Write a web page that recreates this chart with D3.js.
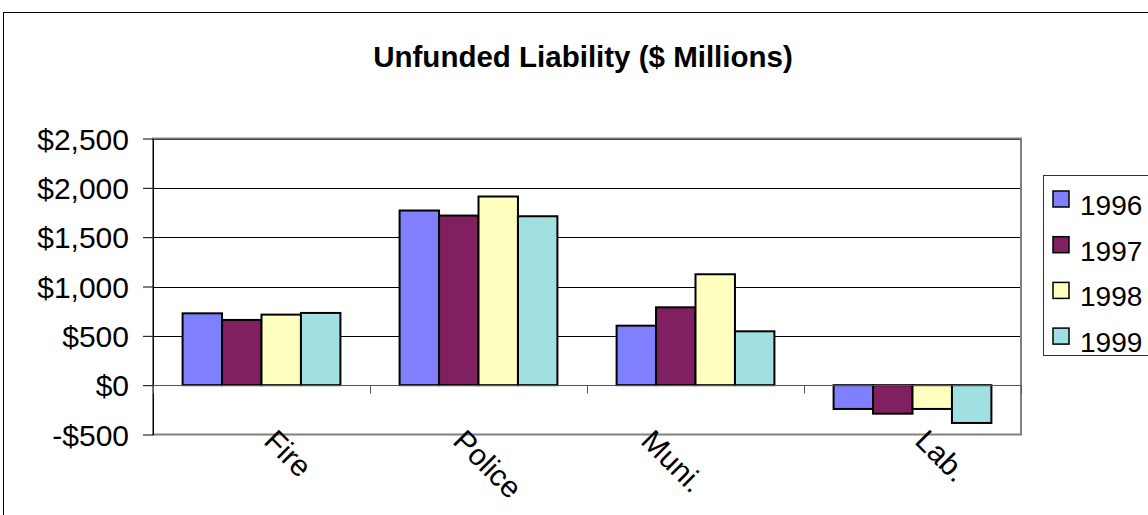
<!DOCTYPE html>
<html>
<head>
<meta charset="utf-8">
<script src="https://cdn.jsdelivr.net/npm/d3@7"></script>
<style>
  body { margin: 0; background: #fff; }
  text { font-family: "Liberation Sans", Arial, sans-serif; fill: #000; }
</style>
</head>
<body>
<div id="chart-area"></div>
<script>
// data
var categories = ["Fire", "Police", "Muni.", "Lab."];
var years = ["1996", "1997", "1998", "1999"];
var v1996 = [728, 1770, 603, -241];
var v1997 = [661, 1719, 789, -289];
var v1998 = [715, 1912, 1124, -241];
var v1999 = [732, 1712, 546, -383];
var yTicks = [-500, 0, 500, 1000, 1500, 2000, 2500];
var colors = ["#8080ff", "#802060", "#ffffc0", "#a0e0e0"];

var series = [v1996, v1997, v1998, v1999];

var width = 1148;
var height = 515;
var plot = {left: 153, right: 1021, top: 138.5, bottom: 434.5};

// label nudges (Excel places the rotated labels a bit unevenly)
var labelShift = [5, -23, -52, 5];

var svg = d3.select("#chart-area")
    .append("svg")
        .attr("width", width)
        .attr("height", height);

// outer chart border, runs off the right and bottom
svg.append("rect")
    .attr("x", 3.5)
    .attr("y", 12.5)
    .attr("width", width + 10)
    .attr("height", height + 10)
    .attr("fill", "none")
    .attr("stroke", "#000")
    .attr("stroke-width", 1);

svg.append("text")
    .attr("x", 583)
    .attr("y", 67)
    .attr("text-anchor", "middle")
    .attr("font-size", "29.5px")
    .attr("font-weight", "bold")
    .text("Unfunded Liability ($ Millions)");

var y = d3.scaleLinear()
    .domain([-500, 2500])
    .range([plot.bottom, plot.top]);

var x = d3.scaleBand()
    .domain(categories)
    .range([plot.left, plot.right])
    .padding(0);

// gap width 150% of a bar -> 5.5 bar widths per category
var barW = x.bandwidth() / 5.5;
var xs = d3.scaleBand()
    .domain(years)
    .range([barW * 0.75, x.bandwidth() - barW * 0.75])
    .padding(0);

// gridlines
svg.append("g")
    .selectAll("line")
    .data(yTicks.filter(function(d) { return d !== 0 && d !== -500; }))
    .enter()
    .append("line")
        .attr("x1", plot.left)
        .attr("x2", plot.right)
        .attr("y1", function(d) { return Math.round(y(d)) + 0.5; })
        .attr("y2", function(d) { return Math.round(y(d)) + 0.5; })
        .attr("stroke", "#000")
        .attr("stroke-width", 1);

// plot area border
svg.append("rect")
    .attr("x", plot.left)
    .attr("y", plot.top)
    .attr("width", plot.right - plot.left)
    .attr("height", plot.bottom - plot.top)
    .attr("fill", "none")
    .attr("stroke", "#808080")
    .attr("stroke-width", 2);

// y axis
var leftAxis = d3.axisLeft(y)
    .tickValues(yTicks)
    .tickSizeInner(10)
    .tickSizeOuter(0)
    .tickPadding(14)
    .tickFormat(function(d) { return d < 0 ? "-$" + d3.format(",")(-d) : "$" + d3.format(",")(d); });

var gy = svg.append("g")
    .attr("transform", "translate(" + plot.left + ",0)")
    .call(leftAxis);
gy.select(".domain").attr("stroke", "#000").attr("stroke-width", 1);
gy.selectAll(".tick line").attr("stroke", "#000");
gy.selectAll(".tick text")
    .attr("font-size", "30px")
    .attr("font-family", "Liberation Sans, Arial, sans-serif")
    .attr("fill", "#000")
    .attr("dy", "0.36em");

// bars
var groups = svg.append("g")
    .selectAll("g")
    .data(categories)
    .enter()
    .append("g")
        .attr("transform", function(d) { return "translate(" + x(d) + ",0)"; });

groups.selectAll("rect")
    .data(function(d, i) {
        return years.map(function(yr, j) { return {year: yr, value: series[j][i], k: j}; });
    })
    .enter()
    .append("rect")
        .attr("x", function(d) { return xs(d.year); })
        .attr("y", function(d) { return y(Math.max(0, d.value)); })
        .attr("width", xs.bandwidth())
        .attr("height", function(d) { return Math.abs(y(d.value) - y(0)); })
        .attr("fill", function(d) { return colors[d.k]; })
        .attr("stroke", "#000")
        .attr("stroke-width", 2);

// x axis along zero
var zeroY = Math.round(y(0)) + 0.5;
svg.append("line")
    .attr("x1", plot.left)
    .attr("x2", plot.right)
    .attr("y1", zeroY)
    .attr("y2", zeroY)
    .attr("stroke", "#555")
    .attr("stroke-width", 1);

var bounds = categories.map(function(c) { return x(c); }).concat([plot.right]);
svg.append("g")
    .selectAll("line")
    .data(bounds)
    .enter()
    .append("line")
        .attr("x1", function(d) { return Math.round(d) + 0.5; })
        .attr("x2", function(d) { return Math.round(d) + 0.5; })
        .attr("y1", zeroY)
        .attr("y2", zeroY + 8)
        .attr("stroke", "#555")
        .attr("stroke-width", 1);

// rotated category labels
svg.append("g")
    .selectAll("text")
    .data(categories)
    .enter()
    .append("text")
        .attr("font-size", "30px")
        .attr("text-anchor", "start")
        .attr("transform", function(d, i) {
            var cx = x(d) + x.bandwidth() / 2 + labelShift[i] - 4;
            return "translate(" + cx + "," + (plot.bottom + 8) + ") rotate(45)";
        })
        .text(function(d) { return d; });

// legend
var legend = svg.append("g");
legend.append("rect")
    .attr("x", 1043.5)
    .attr("y", 175.5)
    .attr("width", 120)
    .attr("height", 180)
    .attr("fill", "#fff")
    .attr("stroke", "#333")
    .attr("stroke-width", 1);

var items = legend.selectAll("g.item")
    .data(years)
    .enter()
    .append("g")
        .attr("class", "item")
        .attr("transform", function(d, i) { return "translate(0," + (i * 45.7) + ")"; });

items.append("rect")
    .attr("x", 1053)
    .attr("y", 191)
    .attr("width", 16)
    .attr("height", 16)
    .attr("fill", function(d, i) { return colors[i]; })
    .attr("stroke", "#000")
    .attr("stroke-width", 1.5);

items.append("text")
    .attr("x", 1080)
    .attr("y", 215)
    .attr("font-size", "28px")
    .text(function(d) { return d; });
</script>
</body>
</html>
